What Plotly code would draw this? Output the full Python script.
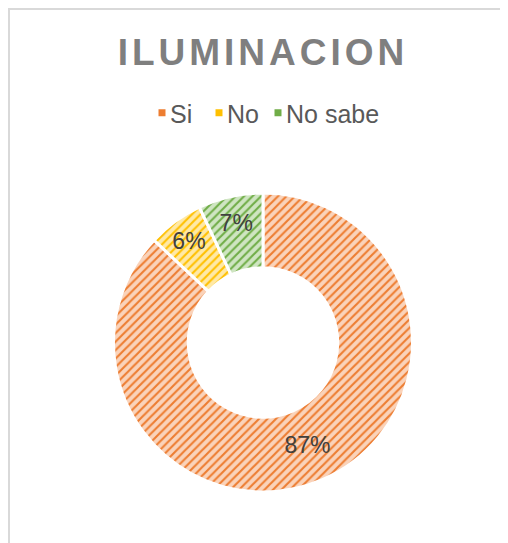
import plotly.graph_objects as go

categories = ["Si", "No", "No sabe"]
values = [87, 6, 7]
colors = ["#ED7D31", "#FFC000", "#70AD47"]
light_colors = ["#FAD3BA", "#FFE9A6", "#CFE5C2"]
title_text = "ILUMINACION"

W, H = 508, 543
OX, OY = 8, 8  # page offset of the plot area
legend_square_px = [162, 219, 278]  # layout positions of the legend entries

fig = go.Figure()

fig.add_trace(go.Pie(
    labels=categories,
    values=values,
    hole=0.5,
    sort=False,
    direction="clockwise",
    rotation=0,
    showlegend=False,
    textinfo="percent",
    texttemplate="%{percent:.0%}",
    textposition="inside",
    insidetextorientation="horizontal",
    textfont=dict(family="Liberation Sans, Arial, sans-serif", size=23, color="#404040"),
    marker=dict(
        colors=light_colors,
        line=dict(color="white", width=3),
        pattern=dict(shape="/", fgcolor=colors, bgcolor=light_colors,
                     fillmode="replace", size=6, solidity=0.35),
    ),
    domain=dict(x=[(113 - OX) / W, (413 - OX) / W],
                y=[1 - (492 - OY) / H, 1 - (193 - OY) / H]),
))

legend_font = dict(family="Liberation Sans, Arial, sans-serif", size=25, color="#595959")
legend_keys = ["legend", "legend2", "legend3"]
layout_legends = {}
for c, col, key, sx in zip(categories, colors, legend_keys, legend_square_px):
    fig.add_trace(go.Scatter(
        x=[None], y=[None], mode="markers", name=c,
        marker=dict(symbol="square", size=7, color=col),
        showlegend=True, legend=key,
    ))
    layout_legends[key] = dict(
        orientation="h",
        x=(sx - OX - 20) / W, xanchor="left",
        y=1 - (113 - OY) / H, yanchor="middle",
        font=legend_font,
        bgcolor="rgba(0,0,0,0)",
    )

fig.update_layout(
    width=W, height=H,
    margin=dict(l=0, r=0, t=0, b=0),
    paper_bgcolor="white",
    plot_bgcolor="white",
    xaxis=dict(visible=False),
    yaxis=dict(visible=False),
    title=dict(
        text="<b>" + title_text + "</b>",
        x=(263 - OX) / W, xanchor="center",
        y=1 - (52 - OY) / H, yanchor="middle",
        font=dict(family="Liberation Sans, Arial, sans-serif", size=37, color="#7F7F7F"),
    ),
    shapes=[dict(
        type="rect", xref="paper", yref="paper",
        x0=1 / W, x1=1.2, y0=-0.2, y1=1 - 1 / H,
        line=dict(color="#D9D9D9", width=2),
        layer="below",
    )],
    **layout_legends,
)

post = """
var st = document.createElement('style');
st.textContent = '.gtitle { letter-spacing: 4px !important; } ' +
                 'g.traces > text { transform: translateX(-12px) !important; }';
document.head.appendChild(st);
"""
fig.write_html("out.html", post_script=post)
